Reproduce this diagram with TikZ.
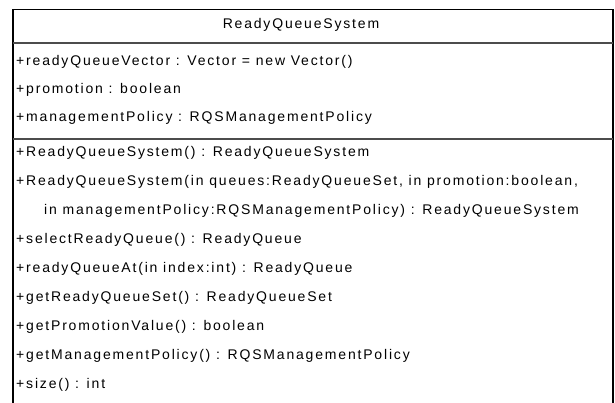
\documentclass[tikz,border=0pt]{standalone}
\usepackage{fontspec}
\setmainfont{Liberation Sans}[LetterSpace=13]
\usepackage{tikz}

\begin{document}
\begin{tikzpicture}[x=1pt,y=-1pt,
	member/.style={anchor=west,inner sep=0pt,text height=10pt,text depth=3pt,
		font=\fontsize{14}{16}\selectfont},
	classname/.style={member,anchor=center},
	frame/.style={line width=1.2pt,color=black},
	divider/.style={line width=1.6pt,color=black!70}]
	\useasboundingbox (0,0) rectangle (615,403);
	% class box, open at the bottom
	\draw[frame] (13,403)--(13,9.5)--(613,9.5)--(613,403);
	\draw[divider] (13,43)--(613,43);
	\draw[divider] (13,139)--(613,139);
	\node[classname] (cls) at (301,25) {ReadyQueueSystem};
	% attributes
	\node[member] (attrvec) at (16,62) {+readyQueueVector : Vector = new Vector()};
	\node[member] (attrprom) at (16,90) {+promotion : boolean};
	\node[member] (attrpol) at (16,118) {+managementPolicy : RQSManagementPolicy};
	% operations
	\node[member] (opctor) at (16,153) {+ReadyQueueSystem() : ReadyQueueSystem};
	\node[member] (opctorargs) at (16,182) {+ReadyQueueSystem(in queues:ReadyQueueSet, in promotion:boolean,};
	\node[member] (opctorcont) at (44,211) {in managementPolicy:RQSManagementPolicy) : ReadyQueueSystem};
	\node[member] (opselect) at (16,240) {+selectReadyQueue() : ReadyQueue};
	\node[member] (opat) at (16,269) {+readyQueueAt(in index:int) : ReadyQueue};
	\node[member] (opset) at (16,298) {+getReadyQueueSet() : ReadyQueueSet};
	\node[member] (opprom) at (16,327) {+getPromotionValue() : boolean};
	\node[member] (oppol) at (16,356) {+getManagementPolicy() : RQSManagementPolicy};
	\node[member] (opsize) at (16,385) {+size() : int};
\end{tikzpicture}
\end{document}
